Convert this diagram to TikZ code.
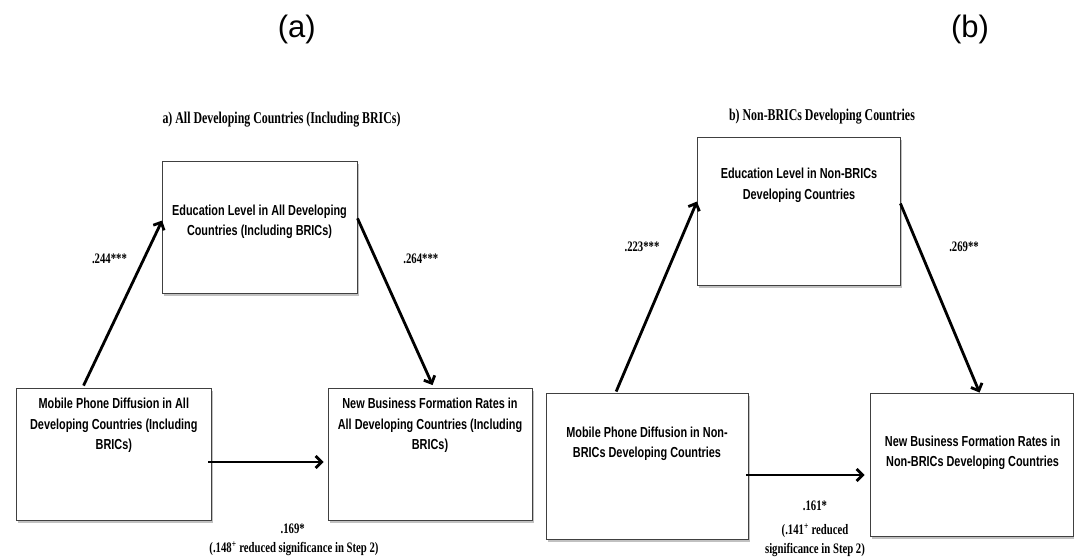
\documentclass[tikz,border=0pt]{standalone}
\usepackage{fontspec}
\setmainfont{Liberation Serif}
\newfontfamily\boxfont{Liberation Sans}[FakeStretch=0.75]
\newfontfamily\labfont{Liberation Serif}[FakeStretch=0.74]
\newfontfamily\titfont{Liberation Serif}[FakeStretch=0.72]
\newfontfamily\panfont{Liberation Sans}
\usetikzlibrary{arrows.meta,calc,shadows}
\tikzset{
  varbox/.style={draw=black!75, line width=0.9pt, fill=white, inner sep=0pt,
    drop shadow={shadow xshift=1.5pt, shadow yshift=-2.5pt, opacity=0.35, fill=black!70}},
  boxtext/.style={align=center, inner sep=0pt, font=\boxfont\bfseries\fontsize{14.5}{20.5}\selectfont},
  coef/.style={align=center, inner sep=0pt, font=\labfont\bfseries\fontsize{14.5}{20.5}\selectfont},
  coeftight/.style={coef, font=\labfont\bfseries\fontsize{14.5}{19}\selectfont},
  paneltitle/.style={inner sep=0pt, font=\titfont\bfseries\fontsize{16.5}{19}\selectfont},
  panellabel/.style={inner sep=0pt, font=\panfont\fontsize{31}{31}\selectfont},
  arr/.style={line width=2.8pt, -{Straight Barb[length=6pt,width=12pt]}}
}
\begin{document}
\begin{tikzpicture}[x=1pt,y=-1pt]
\useasboundingbox (0,0) rectangle (1074,558);

% panel labels
\node[panellabel] (pa) at (296.7,29.5) {(a)};
\node[panellabel] (pb) at (970,29.5) {(b)};

% ---------------- panel (a) ----------------
\node[paneltitle] (tA) at (281.5,119.6) {a) All Developing Countries (Including BRICs)};

\node[varbox, minimum width=194.5pt, minimum height=132.2pt] (eduA) at (259.8,227.4) {};
\node[varbox, minimum width=194.5pt, minimum height=132.5pt] (mobA) at (113.75,454.25) {};
\node[varbox, minimum width=204pt, minimum height=132.5pt] (newA) at (430,454.25) {};

\node[boxtext] (eduAt) at (259.5,222) {Education Level in All Developing\\Countries (Including BRICs)};
\node[boxtext] (mobAt) at (113.8,425.5) {Mobile Phone Diffusion in All\\Developing Countries (Including\\BRICs)};
\node[boxtext] (newAt) at (430,425.5) {New Business Formation Rates in\\All Developing Countries (Including\\BRICs)};

\draw[arr] ($(mobA.north west)+(67.5,-2)$) -- ($(eduA.north west)+(0,59.7)$);
\draw[arr] ($(eduA.north east)+(0,57.5)$) -- ($(newA.north west)+(105,-2.5)$);
\draw[arr] ($(mobA.east)+(-3,7.75)$) -- ($(newA.west)+(-4,7.75)$);

\node[coef] (cA1) at (109.5,259) {.244***};
\node[coef] (cA2) at (420.8,259) {.264***};
\node[coef] (cA3) at (292.7,529) {.169*};
\node[coef] (cA4) at (294,549) {(.148\textsuperscript{+} reduced significance in Step 2)};

% ---------------- panel (b) ----------------
\node[paneltitle] (tB) at (822,116.6) {b) Non-BRICs Developing Countries};

\node[varbox, minimum width=202.6pt, minimum height=148pt] (eduB) at (798.7,211) {};
\node[varbox, minimum width=202.4pt, minimum height=146.6pt] (mobB) at (647.2,466.3) {};
\node[varbox, minimum width=203pt, minimum height=142.5pt] (newB) at (971.5,464.75) {};

\node[boxtext] (eduBt) at (799,185.5) {Education Level in Non-BRICs\\Developing Countries};
\node[boxtext] (mobBt) at (647,443.6) {Mobile Phone Diffusion in Non-\\BRICs Developing Countries};
\node[boxtext] (newBt) at (972.6,453) {New Business Formation Rates in\\Non-BRICs Developing Countries};

\draw[arr] ($(mobB.north west)+(70.6,-1)$) -- ($(eduB.north west)+(0,65)$);
\draw[arr] ($(eduB.north east)+(0,67)$) -- ($(newB.north west)+(110,-0.5)$);
\draw[arr] ($(mobB.east)+(-3,8.7)$) -- ($(newB.west)+(-5,10.25)$);

\node[coef] (cB1) at (642,247) {.223***};
\node[coef] (cB2) at (964,247) {.269**};
\node[coef] (cB3) at (815,506) {.161*};
\node[coeftight] (cB4) at (815,540.5) {(.141\textsuperscript{+} reduced\\significance in Step 2)};
\end{tikzpicture}
\end{document}
